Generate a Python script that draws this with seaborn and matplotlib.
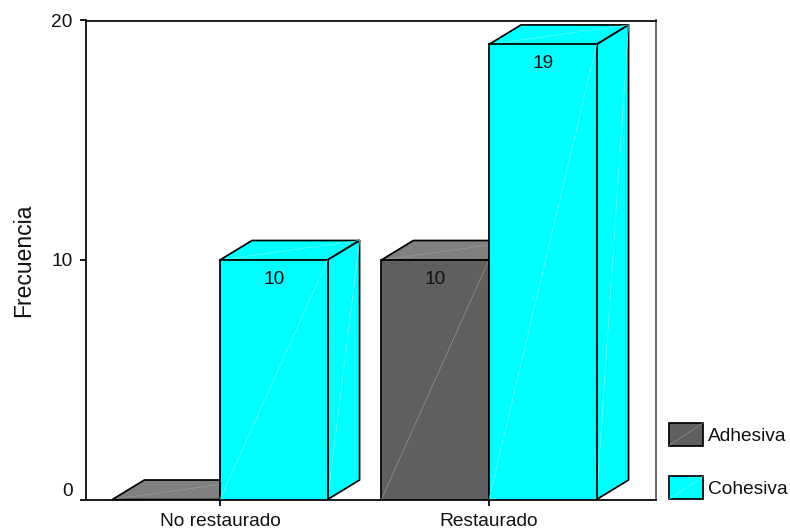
import matplotlib
matplotlib.use("Agg")
import matplotlib.pyplot as plt
import pandas as pd
import seaborn as sns
from matplotlib.legend_handler import HandlerPatch
from matplotlib.lines import Line2D
from matplotlib.patches import Polygon, Rectangle

categories = ["No restaurado", "Restaurado"]
fracture_types = ["Adhesiva", "Cohesiva"]
adhesiva_counts = [0, 10]
cohesiva_counts = [10, 19]
y_ticks = [0, 10, 20]

FRONT = {"Adhesiva": "#5f5f5f", "Cohesiva": "#00ffff"}
TOP = {"Adhesiva": "#808080", "Cohesiva": "#00ffff"}
STREAK = {"Adhesiva": "#a0a0a0", "Cohesiva": "#80ffff"}

table = pd.DataFrame({
    "Estado": categories * 2,
    "Fractura": [fracture_types[0]] * 2 + [fracture_types[1]] * 2,
    "Frecuencia": adhesiva_counts + cohesiva_counts,
})

sns.set_theme(style="white")
plt.rcParams["font.family"] = ["Liberation Sans", "DejaVu Sans"]
plt.rcParams["text.color"] = "#111111"

EDGE = 1.25
TEXT_SIZE = 13.8

fig = plt.figure(figsize=(7.9, 5.29), dpi=100, facecolor="white")
ax = fig.add_axes([86 / 790, 1 - 499.5 / 529, 570 / 790, 479 / 529])

sns.barplot(
    data=table, x="Estado", y="Frecuencia", hue="Fractura",
    hue_order=fracture_types, palette=FRONT, order=categories,
    width=0.8, saturation=1, edgecolor="black", linewidth=EDGE,
    legend=False, ax=ax,
)

ax.set_xlim(-0.498, 1.621)
ax.set_ylim(0, 20)

# Pseudo-3D depth of each bar, expressed in data units
DEPTH_X = 32 / 269
DEPTH_Y = 19.5 / 23.95

bars = []
for fracture, container in zip(fracture_types, ax.containers):
    for patch in container:
        bars.append((patch, fracture))
bars.sort(key=lambda item: item[0].get_x())


def streak(x0, y0, x1, y1, color, z):
    ax.add_line(Line2D([x0, x1], [y0, y1], color=color, lw=0.4, zorder=z,
                       clip_on=False))


for i, (patch, fracture) in enumerate(bars):
    z = 3 + i * 2
    x0, w, h = patch.get_x(), patch.get_width(), patch.get_height()
    x1 = x0 + w
    patch.set_zorder(z + 0.5)

    top = [(x0, h), (x1, h), (x1 + DEPTH_X, h + DEPTH_Y), (x0 + DEPTH_X, h + DEPTH_Y)]
    side = [(x1, 0), (x1 + DEPTH_X, DEPTH_Y), (x1 + DEPTH_X, h + DEPTH_Y), (x1, h)]
    for face, colour in ((top, TOP[fracture]), (side, TOP[fracture])):
        ax.add_patch(Polygon(face, closed=True, facecolor=colour, edgecolor="black",
                             lw=EDGE, zorder=z, clip_on=False, joinstyle="round"))

    tone = STREAK[fracture]
    streak(x0, h, x1 + DEPTH_X, h + DEPTH_Y, tone, z + 0.1)
    streak(x1, 0, x1 + DEPTH_X, h + DEPTH_Y, tone, z + 0.1)
    if h > 0:
        streak(x0, 0, x1, h, tone, z + 0.6)
        ax.annotate(f"{h:.0f}", xy=(x0 + w / 2, h), xytext=(0, -14),
                    textcoords="offset points", ha="center", va="center",
                    fontsize=TEXT_SIZE, color="#111111", zorder=z + 0.7)

# Axes frame and ticks
for name, spine in ax.spines.items():
    spine.set_visible(True)
    spine.set_color("black")
    spine.set_linewidth(EDGE)
ax.spines["right"].set_color("#555555")

ax.set_yticks(y_ticks)
ax.set_xlabel("")
ax.set_ylabel("Frecuencia", fontsize=16.5, labelpad=11.5, color="#111111")
ax.tick_params(axis="both", which="major", direction="out", length=4.5, width=EDGE,
               color="black", labelsize=TEXT_SIZE, labelcolor="#111111",
               bottom=True, left=True)
ax.tick_params(axis="x", pad=5)
ax.tick_params(axis="y", pad=5)
ax.get_yticklabels()[0].set_verticalalignment("bottom")


class SwatchHandler(HandlerPatch):
    """Legend key with the same faint diagonal the bars carry."""

    def create_artists(self, legend, orig_handle, xdescent, ydescent, width, height,
                       fontsize, trans):
        box = Rectangle((-xdescent, -ydescent), width, height,
                        facecolor=orig_handle.get_facecolor(), edgecolor="black",
                        lw=EDGE, transform=trans)
        line = Line2D([-xdescent, width - xdescent], [-ydescent, height - ydescent],
                      color=orig_handle.get_gid(), lw=0.4, transform=trans)
        return [box, line]


handles = []
for fracture in fracture_types:
    key = Rectangle((0, 0), 1, 1, facecolor=FRONT[fracture], edgecolor="black")
    key.set_gid(STREAK[fracture])
    handles.append(key)

fig.legend(
    handles, fracture_types, loc="lower left",
    bbox_to_anchor=(669 / 790, 1 - 499 / 529), frameon=False, fontsize=TEXT_SIZE,
    handlelength=1.78, handleheight=1.45, handletextpad=0.25, labelspacing=1.6,
    borderpad=0, borderaxespad=0,
    handler_map={Rectangle: SwatchHandler()},
)

fig.savefig("out.png", dpi=100, facecolor="white")
